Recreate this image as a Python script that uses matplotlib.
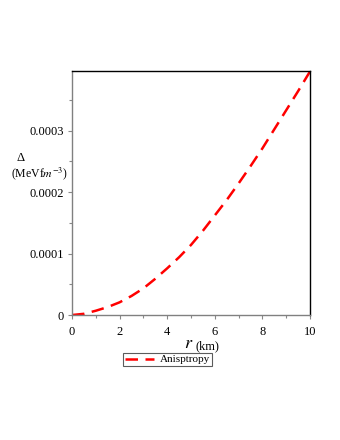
import numpy as np
import matplotlib.pyplot as plt
from matplotlib.ticker import MultipleLocator

plt.rcParams['font.family'] = ['Liberation Serif', 'DejaVu Serif']
plt.rcParams['mathtext.fontset'] = 'stix'

# values
r = [0, 0.5, 1, 1.5, 2, 2.5, 3, 3.5, 4, 4.5, 5,
     5.5, 6, 6.5, 7, 7.5, 8, 8.5, 9, 9.5, 10]
delta = [0, 0.000002, 0.000007, 0.000013, 0.0000207, 0.000031, 0.0000434,
         0.000059, 0.000076, 0.000094, 0.000114, 0.000137, 0.000162,
         0.000187, 0.000214, 0.000242, 0.000271, 0.000302, 0.000333,
         0.000364, 0.000396]

yticks = [0, 0.0001, 0.0002, 0.0003]
yticklabels = ['0', '0.0001', '0.0002', '0.0003']
xticks = [0, 2, 4, 6, 8, 10]

fig = plt.figure(figsize=(3.4, 4.4), dpi=100)
ax = fig.add_axes([0.2118, 0.284, 0.7, 0.555])

ax.plot(r, delta, color='red', ls=(0, (5, 3)), lw=1.8, label='Anisptropy')

ax.set_xlim(0, 10)
ax.set_ylim(0, 0.000397)
ax.set_xticks(xticks)
ax.set_xticklabels([str(v) for v in xticks])
ax.set_yticks(yticks)
ax.set_yticklabels(yticklabels)
ax.xaxis.set_minor_locator(MultipleLocator(1))
ax.yaxis.set_minor_locator(MultipleLocator(0.00005))

ax.tick_params(which='both', direction='out', colors='#888888',
               labelcolor='black', labelsize=9, width=0.8)
ax.tick_params(which='major', length=3, pad=3)
ax.tick_params(which='minor', length=2)
ax.tick_params(axis='x', which='major', pad=5)

for s in ['left', 'bottom']:
    ax.spines[s].set_color('#808080')
for s in ['top', 'right']:
    ax.spines[s].set_color('black')
for s in ax.spines.values():
    s.set_linewidth(1.0)

# axis labels
fig.text(193 / 340, 1 - 343 / 440, r'$r$', fontsize=13, ha='right', va='center')
fig.text(195 / 340, 1 - 346 / 440, '(km)', fontsize=9, ha='left', va='center')
fig.text(21 / 340, 1 - 158 / 440, '\u0394', fontsize=9, ha='center', va='center')
fig.text(39 / 340, 1 - 174 / 440, r'(MeVf$m^{-3}$)', fontsize=8.5, ha='center', va='center')

leg = ax.legend(loc='upper left', bbox_to_anchor=(123 / 340, 1 - 353 / 440),
                bbox_transform=fig.transFigure, frameon=True, fancybox=False,
                fontsize=8, handlelength=2.6, borderpad=0.15, handletextpad=0.6,
                borderaxespad=0)
leg.get_frame().set_edgecolor('#333333')
leg.get_frame().set_linewidth(0.8)

fig.savefig('out.png', dpi=100)
